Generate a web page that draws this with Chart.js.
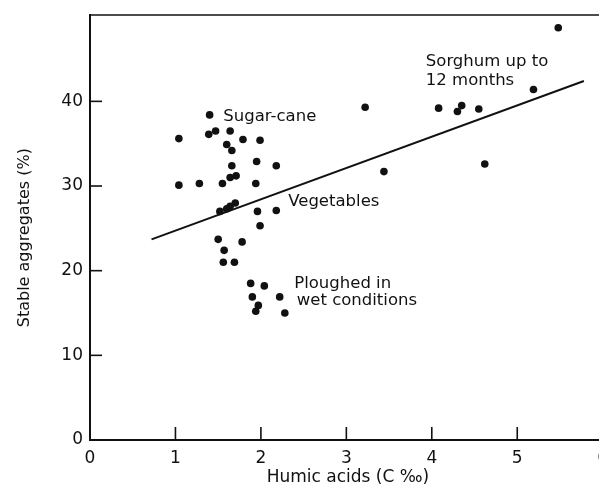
<!DOCTYPE html>
<html>
<head>
<meta charset="utf-8">
<script src="https://cdn.jsdelivr.net/npm/chart.js@4"></script>
<style>
  html, body { margin: 0; padding: 0; background: #fff; overflow: hidden; }
  canvas { display: block; }
</style>
</head>
<body>
<canvas id="c" width="599" height="488"></canvas>
<script>
// Humic acids (C per mille) and stable aggregates (%)
const humicAcids = [1.04, 1.39, 1.47, 1.64, 1.79, 1.99, 1.60, 1.66, 1.66, 1.95, 2.18, 1.64, 1.71, 1.04, 1.28, 1.55, 1.94,
  1.52, 1.60, 1.64, 1.70, 1.96, 2.18, 1.99, 1.50, 1.78, 1.40, 1.57, 1.56, 1.69,
  1.88, 2.04, 1.90, 2.22, 1.97, 1.94, 2.28,
  5.48, 5.19, 3.22, 4.08, 4.35, 4.30, 4.55, 3.44, 4.62];
const stableAggregates = [35.6, 36.1, 36.5, 36.5, 35.5, 35.4, 34.9, 34.2, 32.4, 32.9, 32.4, 31.0, 31.2, 30.1, 30.3, 30.3, 30.3,
  27.0, 27.3, 27.6, 28.0, 27.0, 27.1, 25.3, 23.7, 23.4, 38.4, 22.4, 21.0, 21.0,
  18.5, 18.2, 16.9, 16.9, 15.9, 15.2, 15.0,
  48.7, 41.4, 39.3, 39.2, 39.5, 38.8, 39.1, 31.7, 32.6];
// Regression line end points
const fitX = [0.72, 5.78];
const fitY = [23.7, 42.4];
// Tick labels
const xTicks = [0, 1, 2, 3, 4, 5, 6];
const yTicks = [0, 10, 20, 30, 40];
// Group labels
const labelTexts = ["Sugar-cane", "Sorghum up to", "12 months", "Vegetables", "Ploughed in", "wet conditions"];
const labelX = [1.56, 3.93, 3.93, 2.32, 2.39, 2.42];
const labelY = [38.2, 44.7, 42.4, 28.15, 18.5, 16.4];

const FONT = "'DejaVu Sans', sans-serif";
const INK = '#111';

const framePlugin = {
  id: 'frame',
  afterDraw(chart) {
    const {ctx, chartArea: a, scales: {x, y}} = chart;
    ctx.save();
    ctx.strokeStyle = INK;
    ctx.lineWidth = 1.6;
    ctx.beginPath();
    ctx.moveTo(a.left, a.top);
    ctx.lineTo(a.right + 10, a.top);
    ctx.stroke();
    // x axis continues to the page edge
    ctx.lineWidth = 2;
    ctx.beginPath();
    ctx.moveTo(a.right, a.bottom);
    ctx.lineTo(a.right + 10, a.bottom);
    ctx.stroke();
    ctx.lineWidth = 1.6;
    x.ticks.forEach(t => {
      if (t.value <= 0 || t.value >= 6) return;
      const px = x.getPixelForValue(t.value);
      ctx.beginPath();
      ctx.moveTo(px, a.bottom);
      ctx.lineTo(px, a.bottom - 13);
      ctx.stroke();
    });
    y.ticks.forEach(t => {
      if (t.value <= 0) return;
      const py = y.getPixelForValue(t.value);
      ctx.beginPath();
      ctx.moveTo(a.left, py);
      ctx.lineTo(a.left + 12, py);
      ctx.stroke();
    });
    ctx.fillStyle = INK;
    ctx.font = "16.5px " + FONT;
    ctx.textAlign = 'left';
    ctx.textBaseline = 'middle';
    labelTexts.forEach((s, i) => {
      ctx.fillText(s, x.getPixelForValue(labelX[i]), y.getPixelForValue(labelY[i]));
    });
    ctx.restore();
  }
};

new Chart(document.getElementById('c'), {
  type: 'scatter',
  data: {
    datasets: [
      {
        data: humicAcids.map((v, i) => ({x: v, y: stableAggregates[i]})),
        pointRadius: 3.8,
        pointBackgroundColor: INK,
        pointBorderWidth: 0,
        showLine: false
      },
      {
        type: 'line',
        data: fitX.map((v, i) => ({x: v, y: fitY[i]})),
        borderColor: INK,
        borderWidth: 2,
        pointRadius: 0,
        fill: false,
        tension: 0
      }
    ]
  },
  options: {
    responsive: false,
    animation: false,
    devicePixelRatio: 1,
    layout: { padding: { top: 15, left: 0, right: -3, bottom: 0 } },
    plugins: { legend: { display: false }, tooltip: { enabled: false } },
    scales: {
      x: {
        type: 'linear',
        min: 0, max: 5.91,
        afterFit: s => { s.height = 48; s.paddingLeft = 0; s.paddingRight = 0; },
        afterBuildTicks: s => { s.ticks = xTicks.map(v => ({value: v})); },
        grid: { display: true, drawOnChartArea: false, drawTicks: false },
        border: { display: true, color: INK, width: 2 },
        ticks: { color: INK, font: { family: FONT, size: 17 }, padding: 8, maxRotation: 0, autoSkip: false },
        title: { display: true, text: '  Humic acids (C ‰)', color: INK, font: { family: FONT, size: 17 }, padding: { top: 0, bottom: 0 } }
      },
      y: {
        type: 'linear',
        min: 0, max: 50.2,
        afterFit: s => { s.width = 90; s.paddingTop = 0; s.paddingBottom = 0; },
        afterBuildTicks: s => { s.ticks = yTicks.map(v => ({value: v})); },
        grid: { display: true, drawOnChartArea: false, drawTicks: false },
        border: { display: true, color: INK, width: 2 },
        ticks: { color: INK, font: { family: FONT, size: 17 }, padding: 7, autoSkip: false },
        title: { display: true, text: 'Stable aggregates (%)    ', color: INK, font: { family: FONT, size: 16 }, padding: { top: 15, bottom: 0 } }
      }
    }
  },
  plugins: [framePlugin]
});
</script>
</body>
</html>
